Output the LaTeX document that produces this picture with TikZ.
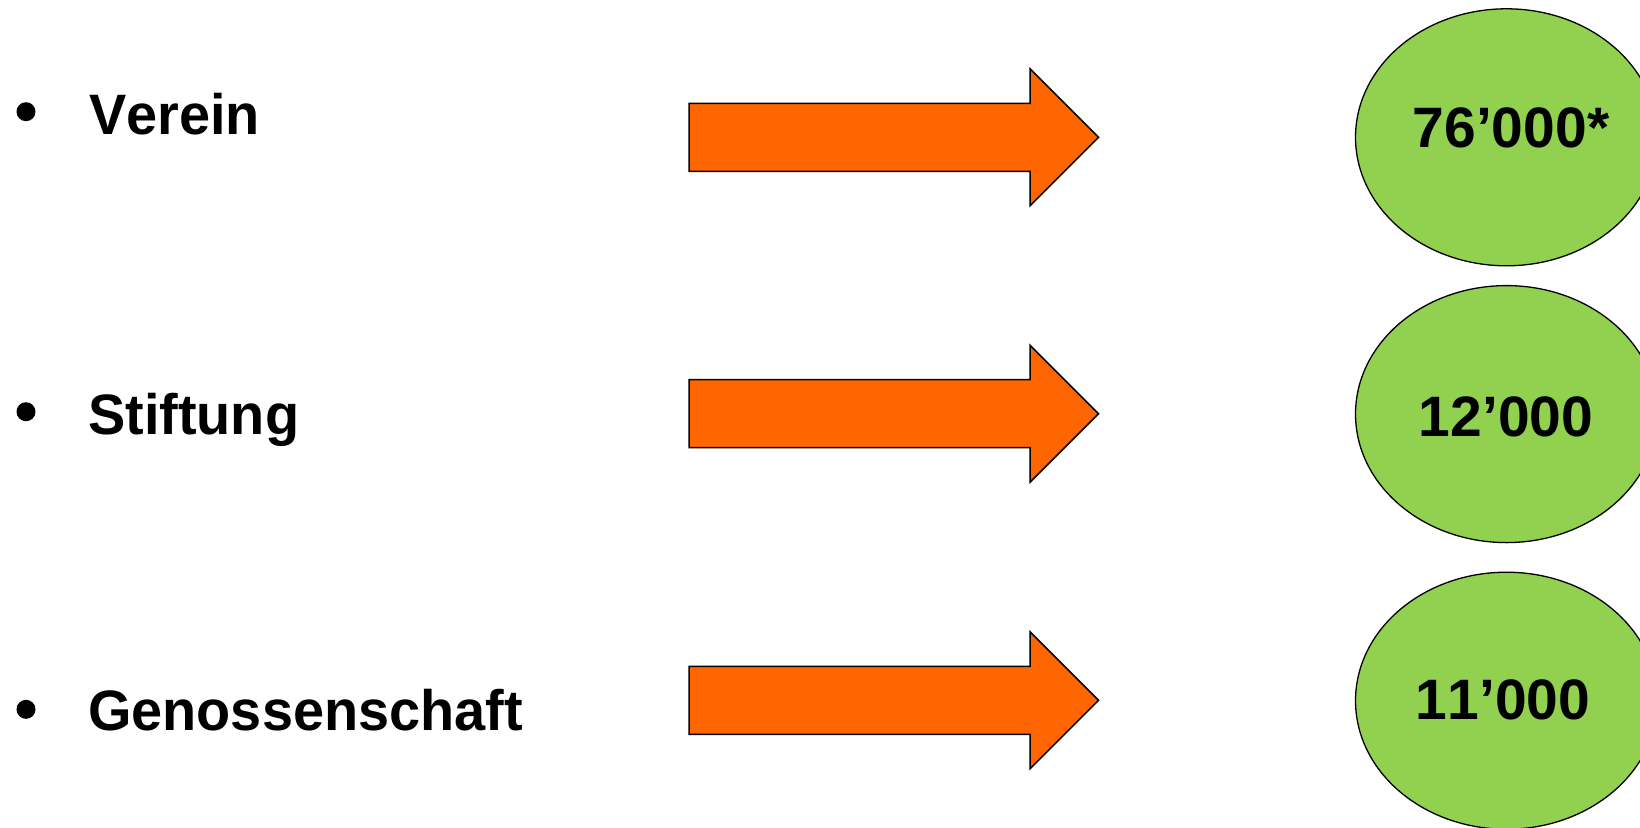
\documentclass[tikz,border=0pt]{standalone}
\usepackage{fontspec}
\setmainfont[Kerning=Off]{Liberation Sans}
\usetikzlibrary{shapes.geometric}

\definecolor{arroworange}{HTML}{FF6600}
\definecolor{countgreen}{HTML}{92D050}

\tikzset{
  bigtext/.style={font=\bfseries\fontsize{57}{68}\selectfont, inner sep=0pt, text=black},
  label/.style={bigtext, anchor=base west},
  count/.style={bigtext, anchor=base},
  dot/.style={circle, fill=black, draw=none, minimum size=19pt, inner sep=0pt},
  countbubble/.style={ellipse, draw=black, line width=1.3pt, fill=countgreen,
    minimum width=302pt, minimum height=257pt, inner sep=0pt},
  blockarrow/.style={draw=black, line width=1.5pt, fill=arroworange, line join=miter}
}

% draws a block arrow whose tail starts at #1 (left edge, vertical middle)
\newcommand{\blockarrowat}[1]{%
  \draw[blockarrow] (#1) ++(0,-34.5) -- ++(341,0) -- ++(0,-34.5)
    -- ++(68.5,68.5) -- ++(-68.5,68.5) -- ++(0,-34.5) -- ++(-341,0) -- cycle;}

\begin{document}
\begin{tikzpicture}[x=1pt, y=-1pt]
  \useasboundingbox (0,0) rectangle (1640,827);
  \clip (0,0) rectangle (1640,827);

  % legal forms
  \node[dot] (b1) at (26,111.7) {};
  \node[dot] (b2) at (26,411.7) {};
  \node[dot] (b3) at (26,709.3) {};
  \node[label] (verein) at (89,134) {\scalebox{0.98}[1]{Verein}};
  \node[label] (stiftung) at (88,434) {\scalebox{0.98}[1]{Stiftung}};
  \node[label] (genossenschaft) at (88,730) {\scalebox{0.98}[1]{Genossenschaft}};

  % arrows
  \coordinate (a1) at (689,137.8);
  \coordinate (a2) at (689,414.2);
  \coordinate (a3) at (689,700.8);
  \blockarrowat{a1}
  \blockarrowat{a2}
  \blockarrowat{a3}

  % counts
  \node[countbubble] (e1) at (1506.5,137.3) {};
  \node[countbubble] (e2) at (1506.5,414.1) {};
  \node[countbubble] (e3) at (1506.5,700.7) {};
  \node[count] (n1) at (1511,147.3) {76’000*};
  \node[count] (n2) at (1506,436) {12’000};
  \node[count] (n3) at (1503,719.3) {11’000};
\end{tikzpicture}
\end{document}
